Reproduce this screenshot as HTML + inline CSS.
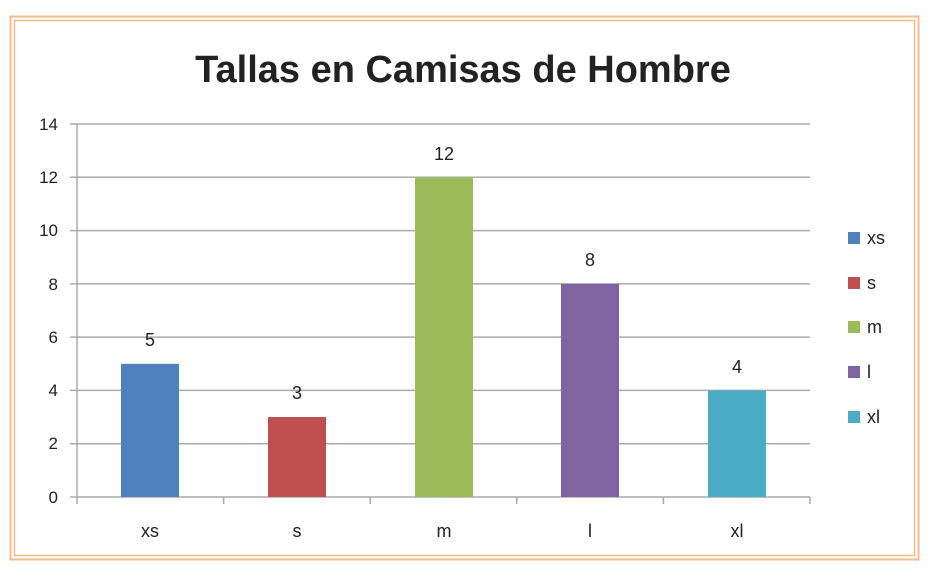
<!DOCTYPE html><html><head><meta charset="utf-8"><style>body{margin:0;background:#fff}svg{display:block}text{font-family:"Liberation Sans",Arial,sans-serif;fill:#222}</style></head><body>
<svg width="928" height="568" viewBox="0 0 928 568">
<rect x="10.5" y="16.5" width="908" height="543" fill="none" stroke="#f9b98a" stroke-width="2"/>
<rect x="14.5" y="20.5" width="900" height="535" fill="none" stroke="#f9b98a" stroke-width="1.5"/>
<text x="463" y="82" text-anchor="middle" font-size="38" font-weight="bold" fill="#111">Tallas en Camisas de Hombre</text>
<g stroke="#aaa" stroke-width="1.5">
<line x1="70" y1="124" x2="810" y2="124"/><line x1="70" y1="177.3" x2="810" y2="177.3"/><line x1="70" y1="230.6" x2="810" y2="230.6"/><line x1="70" y1="283.9" x2="810" y2="283.9"/><line x1="70" y1="337.1" x2="810" y2="337.1"/><line x1="70" y1="390.4" x2="810" y2="390.4"/><line x1="70" y1="443.7" x2="810" y2="443.7"/><line x1="70" y1="497" x2="810" y2="497"/>
<line x1="77" y1="124" x2="77" y2="504"/>
<line x1="223.6" y1="497" x2="223.6" y2="504"/><line x1="370.2" y1="497" x2="370.2" y2="504"/><line x1="516.8" y1="497" x2="516.8" y2="504"/><line x1="663.4" y1="497" x2="663.4" y2="504"/><line x1="810" y1="497" x2="810" y2="504"/>
</g>
<g font-size="17" text-anchor="end">
<text x="58" y="130">14</text><text x="58" y="183">12</text><text x="58" y="236">10</text><text x="58" y="290">8</text><text x="58" y="343">6</text><text x="58" y="396">4</text><text x="58" y="449">2</text><text x="58" y="503">0</text></g>
<rect x="121" y="363.8" width="58" height="133.2" fill="#4F81BD"/>
<rect x="268" y="417" width="58" height="80" fill="#C0504D"/>
<rect x="415" y="177.3" width="58" height="319.7" fill="#9BBB59"/>
<rect x="561" y="283.9" width="58" height="213.1" fill="#8064A2"/>
<rect x="708" y="390.4" width="58" height="106.6" fill="#4BACC6"/>
<g font-size="18" text-anchor="middle">
<text x="150" y="346">5</text><text x="297" y="399">3</text><text x="444" y="160">12</text><text x="590" y="266">8</text><text x="737" y="373">4</text>
<text x="150" y="537">xs</text><text x="297" y="537">s</text><text x="444" y="537">m</text><text x="590" y="537">l</text><text x="737" y="537">xl</text></g>
<rect x="848" y="232" width="12" height="12" fill="#4F81BD"/><rect x="848" y="277" width="12" height="12" fill="#C0504D"/><rect x="848" y="321" width="12" height="12" fill="#9BBB59"/><rect x="848" y="366" width="12" height="12" fill="#8064A2"/><rect x="848" y="411" width="12" height="12" fill="#4BACC6"/>
<g font-size="18"><text x="867" y="244">xs</text><text x="867" y="289">s</text><text x="867" y="333">m</text><text x="867" y="378">l</text><text x="867" y="423">xl</text></g>
</svg></body></html>
